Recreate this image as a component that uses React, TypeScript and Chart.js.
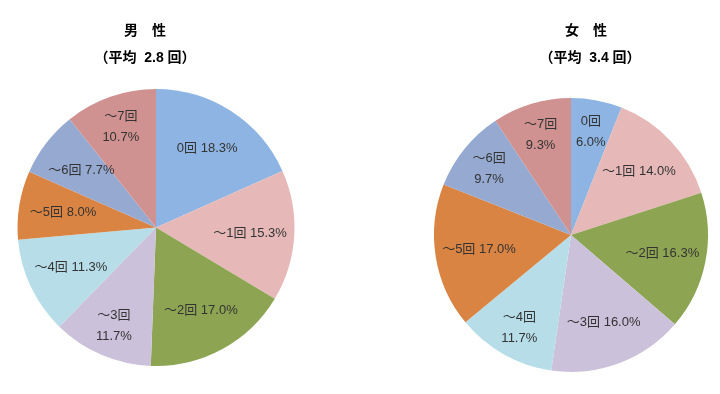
import React, { useEffect, useRef } from "react";
import { Chart, registerables } from "chart.js";

Chart.register(...registerables);

const categories = ["0回", "～1回", "～2回", "～3回", "～4回", "～5回", "～6回", "～7回"];
const maleValues = [18.3, 15.3, 17.0, 11.7, 11.3, 8.0, 7.7, 10.7];
const femaleValues = [6.0, 14.0, 16.3, 16.0, 11.7, 17.0, 9.7, 9.3];
const maleTitle = "男　性";
const maleSubtitle = "（平均  2.8 回）";
const femaleTitle = "女　性";
const femaleSubtitle = "（平均  3.4 回）";
const sliceColors = ["#8DB4E2", "#E6B9B8", "#8DA553", "#CCC1DA", "#B7DEE8", "#DA8443", "#95A9D1", "#D09291"];

const LABEL_FONT = "13px 'Liberation Sans', 'Noto Sans CJK JP', sans-serif";
const TITLE_FONT = "bold 14px 'Liberation Sans', 'Noto Sans CJK JP', sans-serif";

type PieProps = {
  values: number[];
  title: string;
  subtitle: string;
  titleX: number;
  subtitleX: number;
  twoLine: number[];
  padding: { top: number; bottom: number; left: number; right: number };
  left: number;
};

function PieChart(props: PieProps) {
  const ref = useRef<HTMLCanvasElement | null>(null);
  useEffect(() => {
    if (!ref.current) return;
    const labelPlugin = {
      id: "sliceLabels",
      afterDatasetsDraw(chart: any) {
        const ctx = chart.ctx;
        const meta = chart.getDatasetMeta(0);
        ctx.save();
        ctx.font = LABEL_FONT;
        ctx.fillStyle = "#333333";
        ctx.textAlign = "center";
        ctx.textBaseline = "middle";
        meta.data.forEach((arc: any, i: number) => {
          const mid = (arc.startAngle + arc.endAngle) / 2;
          const two = props.twoLine.includes(i);
          const f = two ? 0.77 : 0.68;
          const x = arc.x + Math.cos(mid) * arc.outerRadius * f;
          const y = arc.y + Math.sin(mid) * arc.outerRadius * f;
          const pct = props.values[i].toFixed(1) + "%";
          if (two) {
            ctx.fillText(categories[i], x, y - 10);
            ctx.fillText(pct, x, y + 11);
          } else {
            ctx.fillText(categories[i] + " " + pct, x, y);
          }
        });
        ctx.restore();
      },
      afterDraw(chart: any) {
        const ctx = chart.ctx;
        ctx.save();
        ctx.font = TITLE_FONT;
        ctx.fillStyle = "#000000";
        ctx.textAlign = "center";
        ctx.textBaseline = "middle";
        ctx.fillText(props.title, props.titleX, 31);
        ctx.fillText(props.subtitle, props.subtitleX, 58);
        ctx.restore();
      },
    };
    const chart = new Chart(ref.current, {
      type: "pie",
      data: {
        labels: categories,
        datasets: [
          {
            data: props.values,
            backgroundColor: sliceColors,
            borderWidth: 0,
          },
        ],
      },
      options: {
        responsive: false,
        animation: false,
        layout: { padding: props.padding },
        plugins: {
          legend: { display: false },
          tooltip: { enabled: false },
          title: { display: false },
        },
      },
      plugins: [labelPlugin],
    });
    return () => chart.destroy();
  }, []);
  return (
    <canvas
      ref={ref}
      width={320}
      height={394}
      style={{ position: "absolute", left: props.left, top: 0, width: 320, height: 394 }}
    />
  );
}

export default function App() {
  return (
    <div style={{ position: "absolute", left: 0, top: 0, width: 720, height: 394, background: "#ffffff" }}>
      <PieChart
        values={maleValues}
        title={maleTitle}
        subtitle={maleSubtitle}
        titleX={145}
        subtitleX={145}
        twoLine={[3, 7]}
        padding={{ top: 89, bottom: 28, left: 0, right: 8 }}
        left={0}
      />
      <PieChart
        values={femaleValues}
        title={femaleTitle}
        subtitle={femaleSubtitle}
        titleX={186}
        subtitleX={190}
        twoLine={[0, 4, 6, 7]}
        padding={{ top: 98, bottom: 22, left: 22, right: 0 }}
        left={400}
      />
    </div>
  );
}
